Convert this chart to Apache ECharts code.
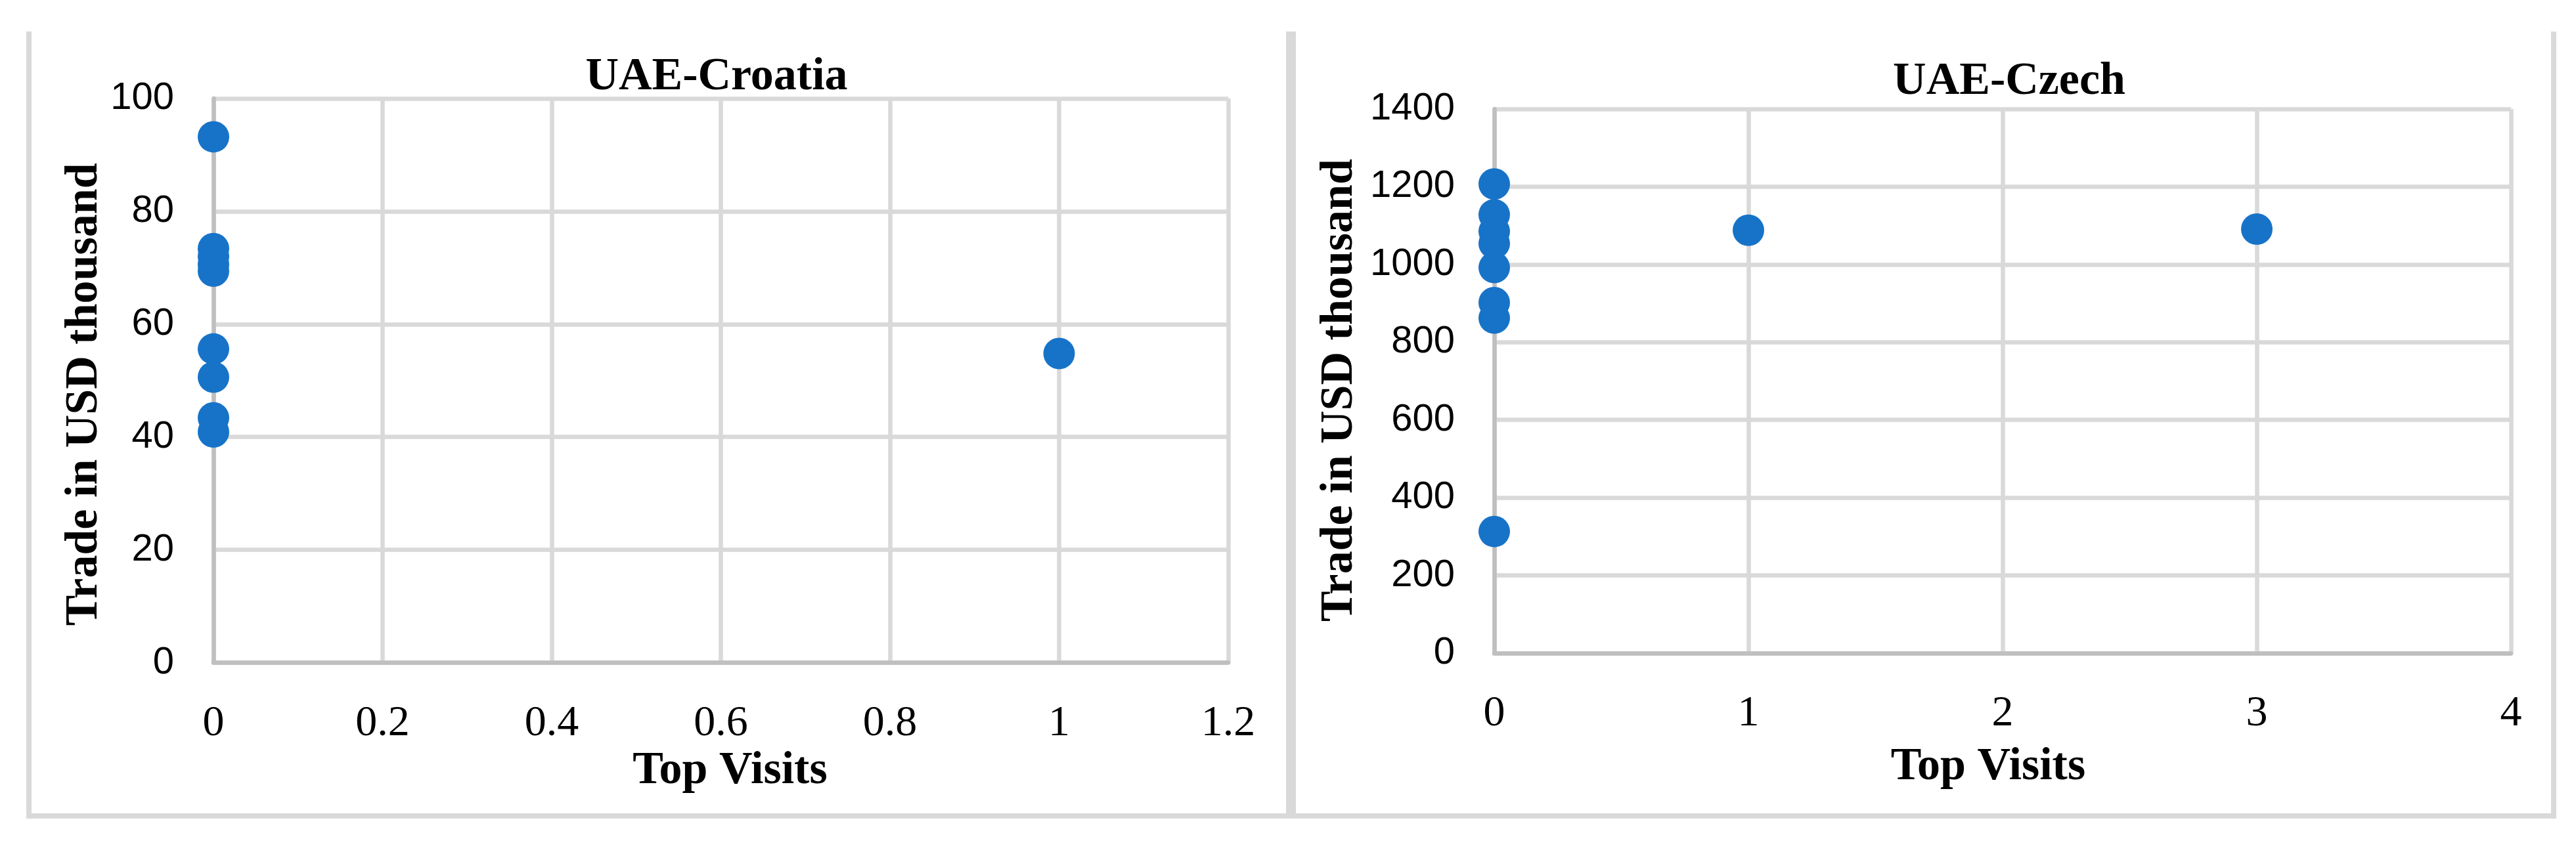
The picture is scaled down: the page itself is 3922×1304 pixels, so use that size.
<!DOCTYPE html>
<html>
<head>
<meta charset="utf-8">
<script src="https://cdn.jsdelivr.net/npm/echarts@6/dist/echarts.min.js"></script>
<style>
html,body{margin:0;padding:0;background:#fff;}
#chart{width:3922px;height:1304px;}
</style>
</head>
<body>
<div id="chart"></div>
<script>
// ---- data ----
const croatiaTitle = 'UAE-Croatia';
const czechTitle = 'UAE-Czech';
const croatiaVisits = [0, 0, 0, 0, 0, 0, 0, 0, 0, 1];
const croatiaTrade  = [93.2, 73.4, 72.0, 70.6, 69.4, 55.6, 50.6, 43.4, 40.9, 54.8];
const czechVisits   = [0, 0, 0, 0, 0, 0, 0, 0, 1, 3];
const czechTrade    = [1207, 1128, 1085, 1054, 992, 902, 862, 313, 1088, 1091];
const croatiaXTicks = [0, 0.2, 0.4, 0.6, 0.8, 1, 1.2];
const croatiaYTicks = [0, 20, 40, 60, 80, 100];
const czechXTicks   = [0, 1, 2, 3, 4];
const czechYTicks   = [0, 200, 400, 600, 800, 1000, 1200, 1400];
const xAxisTitle = 'Top Visits';
const yAxisTitle = 'Trade in USD thousand';

const SERIF = "'Liberation Serif', 'Times New Roman', serif";
const SANS = "'Liberation Sans', Arial, sans-serif";
const GRID_C = '#d9d9d9';
const AXIS_C = '#bfbfbf';
const DOT_C = '#1773c8';

function pairs(xs, ys) { return xs.map((x, i) => [x, ys[i]]); }
function rng(t) { return { min: t[0], max: t[t.length - 1], interval: t[1] - t[0] }; }
function plain(v) { return String(Math.round(v * 100) / 100); }

function xAxisCfg(idx, ticks, gap, pad) {
  return Object.assign({
    type: 'value', gridIndex: idx,
    axisLine: { show: true, onZero: false, lineStyle: { color: AXIS_C, width: 6.5 } },
    axisTick: { show: false },
    splitLine: { show: true, lineStyle: { color: GRID_C, width: 6.5 } },
    axisLabel: { fontFamily: SERIF, fontSize: 66, color: '#000', margin: 60, formatter: plain },
    name: xAxisTitle, nameLocation: 'middle', nameGap: gap,
    nameTextStyle: { fontFamily: SERIF, fontWeight: 'bold', fontSize: 70, color: '#000', padding: pad }
  }, rng(ticks));
}
function yAxisCfg(idx, ticks, gap, pad) {
  return Object.assign({
    type: 'value', gridIndex: idx,
    axisLine: { show: true, onZero: false, lineStyle: { color: AXIS_C, width: 6.5 } },
    axisTick: { show: false },
    splitLine: { show: true, lineStyle: { color: GRID_C, width: 6.5 } },
    axisLabel: { fontFamily: SANS, fontSize: 58, color: '#000', margin: 60, formatter: plain },
    name: yAxisTitle, nameLocation: 'middle', nameRotate: 90, nameGap: gap,
    nameTextStyle: { fontFamily: SERIF, fontWeight: 'bold', fontSize: 70, color: '#000', padding: pad }
  }, rng(ticks));
}

function border(x, y, w, h) {
  return { type: 'rect', shape: { x: x, y: y, width: w, height: h }, style: { fill: GRID_C }, silent: true };
}

const chart = echarts.init(document.getElementById('chart'), null, { renderer: 'canvas' });
chart.setOption({
  backgroundColor: '#fff',
  animation: false,
  title: [
    { text: croatiaTitle, left: 1086, top: 78, textAlign: 'center',
      textStyle: { fontFamily: SERIF, fontWeight: 'bold', fontSize: 70, color: '#000' } },
    { text: czechTitle, left: 3054, top: 85, textAlign: 'center',
      textStyle: { fontFamily: SERIF, fontWeight: 'bold', fontSize: 70, color: '#000' } }
  ],
  grid: [
    { left: 325, top: 150, width: 1545, height: 859.5 },
    { left: 2275, top: 166, width: 1548, height: 829 }
  ],
  xAxis: [
    xAxisCfg(0, croatiaXTicks, 115, [0, 0, 0, 28]),
    xAxisCfg(1, czechXTicks, 139, [0, 44, 0, 0])
  ],
  yAxis: [
    yAxisCfg(0, croatiaYTicks, 160, [0, 42, 0, 0]),
    yAxisCfg(1, czechYTicks, 200, [0, 28, 0, 0])
  ],
  series: [
    { type: 'scatter', xAxisIndex: 0, yAxisIndex: 0, data: pairs(croatiaVisits, croatiaTrade),
      symbol: 'circle', symbolSize: 48, clip: false, itemStyle: { color: DOT_C, opacity: 1 } },
    { type: 'scatter', xAxisIndex: 1, yAxisIndex: 1, data: pairs(czechVisits, czechTrade),
      symbol: 'circle', symbolSize: 48, clip: false, itemStyle: { color: DOT_C, opacity: 1 } }
  ],
  graphic: [
    border(40, 48, 8, 1199),
    border(1958, 48, 8, 1199),
    border(40, 1239, 1926, 8),
    border(1966, 48, 7, 1199),
    border(3884, 48, 8, 1199),
    border(1966, 1239, 1926, 8)
  ]
});
</script>
</body>
</html>
